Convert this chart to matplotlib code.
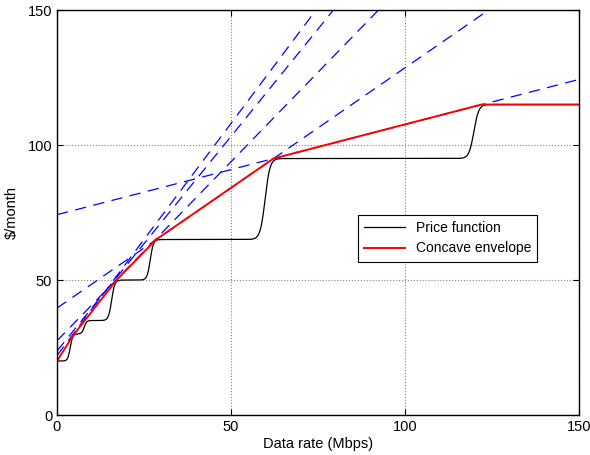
import numpy as np
import matplotlib
matplotlib.use("Agg")
import matplotlib.pyplot as plt

plt.rcParams['font.family'] = ['Liberation Sans', 'DejaVu Sans']

# price plateaus and where each step up happens (Mbps)
price_levels = [20, 30, 35, 50, 65, 95, 115]
step_centers = [3.8, 7.8, 15.7, 26.8, 59.8, 119.8]
step_widths = [0.35, 0.35, 0.45, 0.45, 0.7, 0.7]

# concave envelope vertices
env_x = [0, 4.7, 17.1, 28.5, 62.2, 122, 150]
env_y = [20, 29.6, 50, 65, 95, 115, 115]

# dashed supporting lines: y = intercept + slope * x
line_intercepts = [22.0, 23.7, 27.5, 39.6, 74.2]
line_slopes = [1.72, 1.59, 1.326, 0.89, 0.334]


def price(x):
    y = np.full_like(x, price_levels[0], dtype=float)
    for c, w, lo, hi in zip(step_centers, step_widths, price_levels[:-1], price_levels[1:]):
        y += (hi - lo) / (1 + np.exp(-(x - c) / w))
    return y


fig = plt.figure(figsize=(5.9, 4.55), dpi=100)
ax = fig.add_axes([0.0966, 0.0879, 0.8847, 0.890])

xs = np.linspace(0, 150, 3000)
for b, m in zip(line_intercepts, line_slopes):
    ax.plot(xs, b + m * xs, color='blue', lw=0.9, dashes=(9, 6))

ax.plot(xs, price(xs), color='black', lw=0.9, label='Price function')
ax.plot(env_x, env_y, color='red', lw=1.4, label='Concave envelope')

ax.set_xlim(0, 150)
ax.set_ylim(0, 150)
ax.set_xticks([0, 50, 100, 150])
ax.set_yticks([0, 50, 100, 150])
ax.tick_params(direction='in', top=True, right=True, labelsize=10.5, length=4)
ax.grid(True, linestyle=':', color='gray', lw=0.8)
for s in ax.spines.values():
    s.set_linewidth(1.0)

ax.set_xlabel('Data rate (Mbps)', fontsize=10.5, labelpad=2)
ax.set_ylabel('$/month', fontsize=10.5, labelpad=6)

leg = ax.legend(loc='upper left', bbox_to_anchor=(0.577, 0.494), fancybox=False,
                edgecolor='black', framealpha=1, fontsize=10, borderaxespad=0,
                handlelength=2.9, borderpad=0.45, labelspacing=0.45)
leg.get_frame().set_linewidth(0.8)

fig.savefig('out.png', dpi=100)
